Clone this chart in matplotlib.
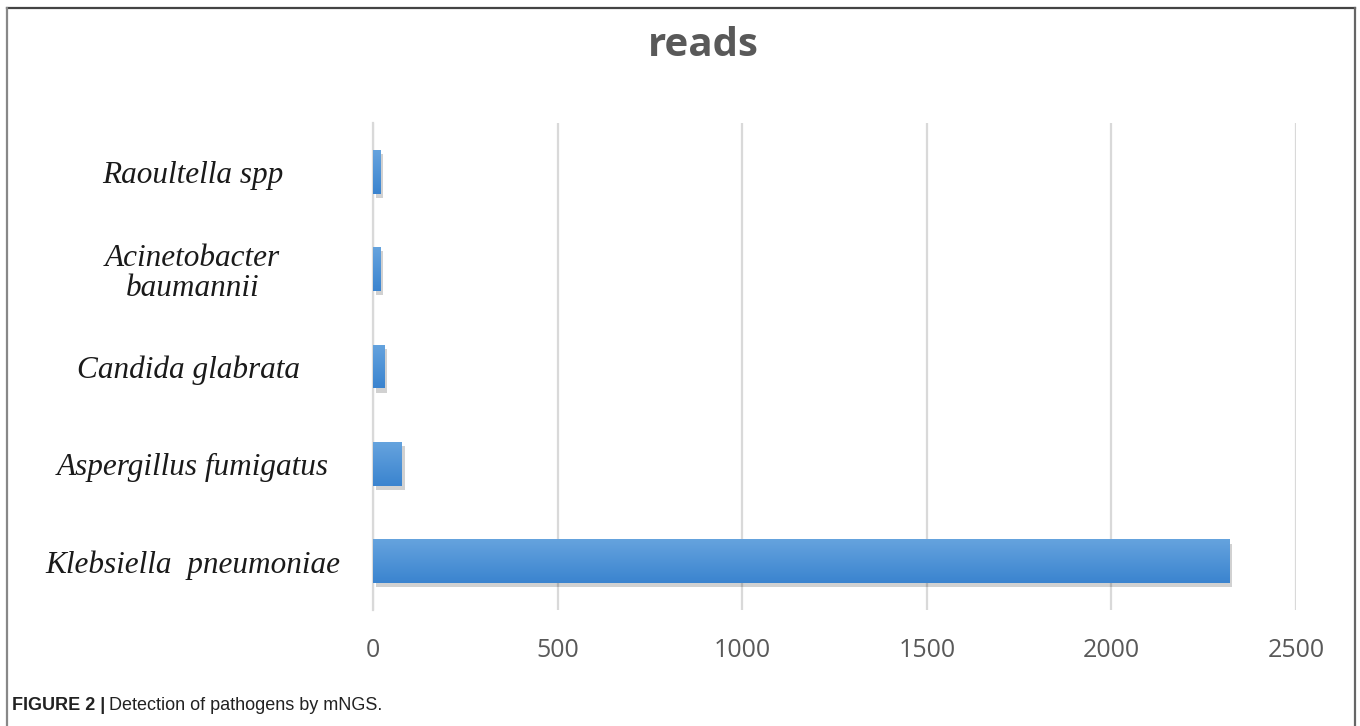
import matplotlib
matplotlib.use("Agg")
import matplotlib.pyplot as plt
from matplotlib.lines import Line2D
import matplotlib.patheffects as pe
from matplotlib.colors import LinearSegmentedColormap
import numpy as np

categories = ["Klebsiella  pneumoniae", "Aspergillus fumigatus", "Candida glabrata ",
              "Acinetobacter\nbaumannii", "Raoultella spp"]
reads = [2320, 78, 31, 20, 20]
xticks = [0, 500, 1000, 1500, 2000, 2500]

W, H = 1360, 726
fig = plt.figure(figsize=(W / 100, H / 100), dpi=100)
ax = fig.add_axes([373 / W, 1 - 610 / H, (1296 - 373) / W, (610 - 123) / H])

y = list(range(len(categories)))
bh = 0.45
bars = ax.barh(y, reads, height=bh, color="#4f93d8", zorder=3)
for b in bars:
    b.set_path_effects([pe.SimplePatchShadow(offset=(2, -3), shadow_rgbFace="#000000", alpha=0.18),
                        pe.Normal()])
# vertical gradient on each bar
grad = np.linspace(0, 1, 64).reshape(-1, 1)
cmap = LinearSegmentedColormap.from_list("g", ["#3b84cf", "#65a3de"])
for b in bars:
    x0, y0 = b.get_x(), b.get_y()
    im = ax.imshow(grad, cmap=cmap, aspect="auto", origin="lower",
                   extent=[x0, x0 + b.get_width(), y0, y0 + b.get_height()], zorder=4)
    im.set_clip_path(b)

ax.set_xlim(0, 2500)
ax.set_ylim(-0.5, len(categories) - 0.5)
ax.set_xticks(xticks)
ax.set_xticklabels([str(v) for v in xticks], fontsize=18, color="#595959", family="Open Sans")
ax.grid(axis="x", color="#d9d9d9", linewidth=1.6, zorder=0)
ax.set_yticks(y)
ax.set_yticklabels(categories, fontsize=22.5, family="Liberation Serif", style="italic",
                   color="#1a1a1a", linespacing=1.05)
for lab in ax.get_yticklabels():
    lab.set_horizontalalignment("center")
    lab.set_multialignment("center")
ax.tick_params(axis="y", length=0, pad=130)
ax.tick_params(axis="x", length=0, pad=20)
for s in ["top", "right", "bottom"]:
    ax.spines[s].set_visible(False)
ax.spines["left"].set_color("#d9d9d9")
ax.spines["left"].set_linewidth(1.6)

fig.text(0.5 * (647 + 760) / W, 1 - 46 / H, "reads", ha="center", va="center",
         fontsize=29, fontweight="bold", color="#595959", family="Open Sans")

# caption
t1 = fig.text(12 / W, 1 - 705 / H, "FIGURE 2 |", fontsize=13, fontweight="bold",
              family="Liberation Sans", color="#222222", va="center")
fig.canvas.draw()
bb = t1.get_window_extent()
fig.text((bb.x1 + 4) / W, 1 - 705 / H, "Detection of pathogens by mNGS.", fontsize=13,
         family="Liberation Sans", color="#222222", va="center")

# frame lines
fig.add_artist(Line2D([7 / W, 1355 / W], [1 - 8 / H, 1 - 8 / H], color="#444444", linewidth=1.6))
fig.add_artist(Line2D([7 / W, 7 / W], [1 - 8 / H, 0], color="#888888", linewidth=1.6))
fig.add_artist(Line2D([1355 / W, 1355 / W], [1 - 8 / H, 0], color="#666666", linewidth=1.6))

fig.savefig("out.png", dpi=100)
